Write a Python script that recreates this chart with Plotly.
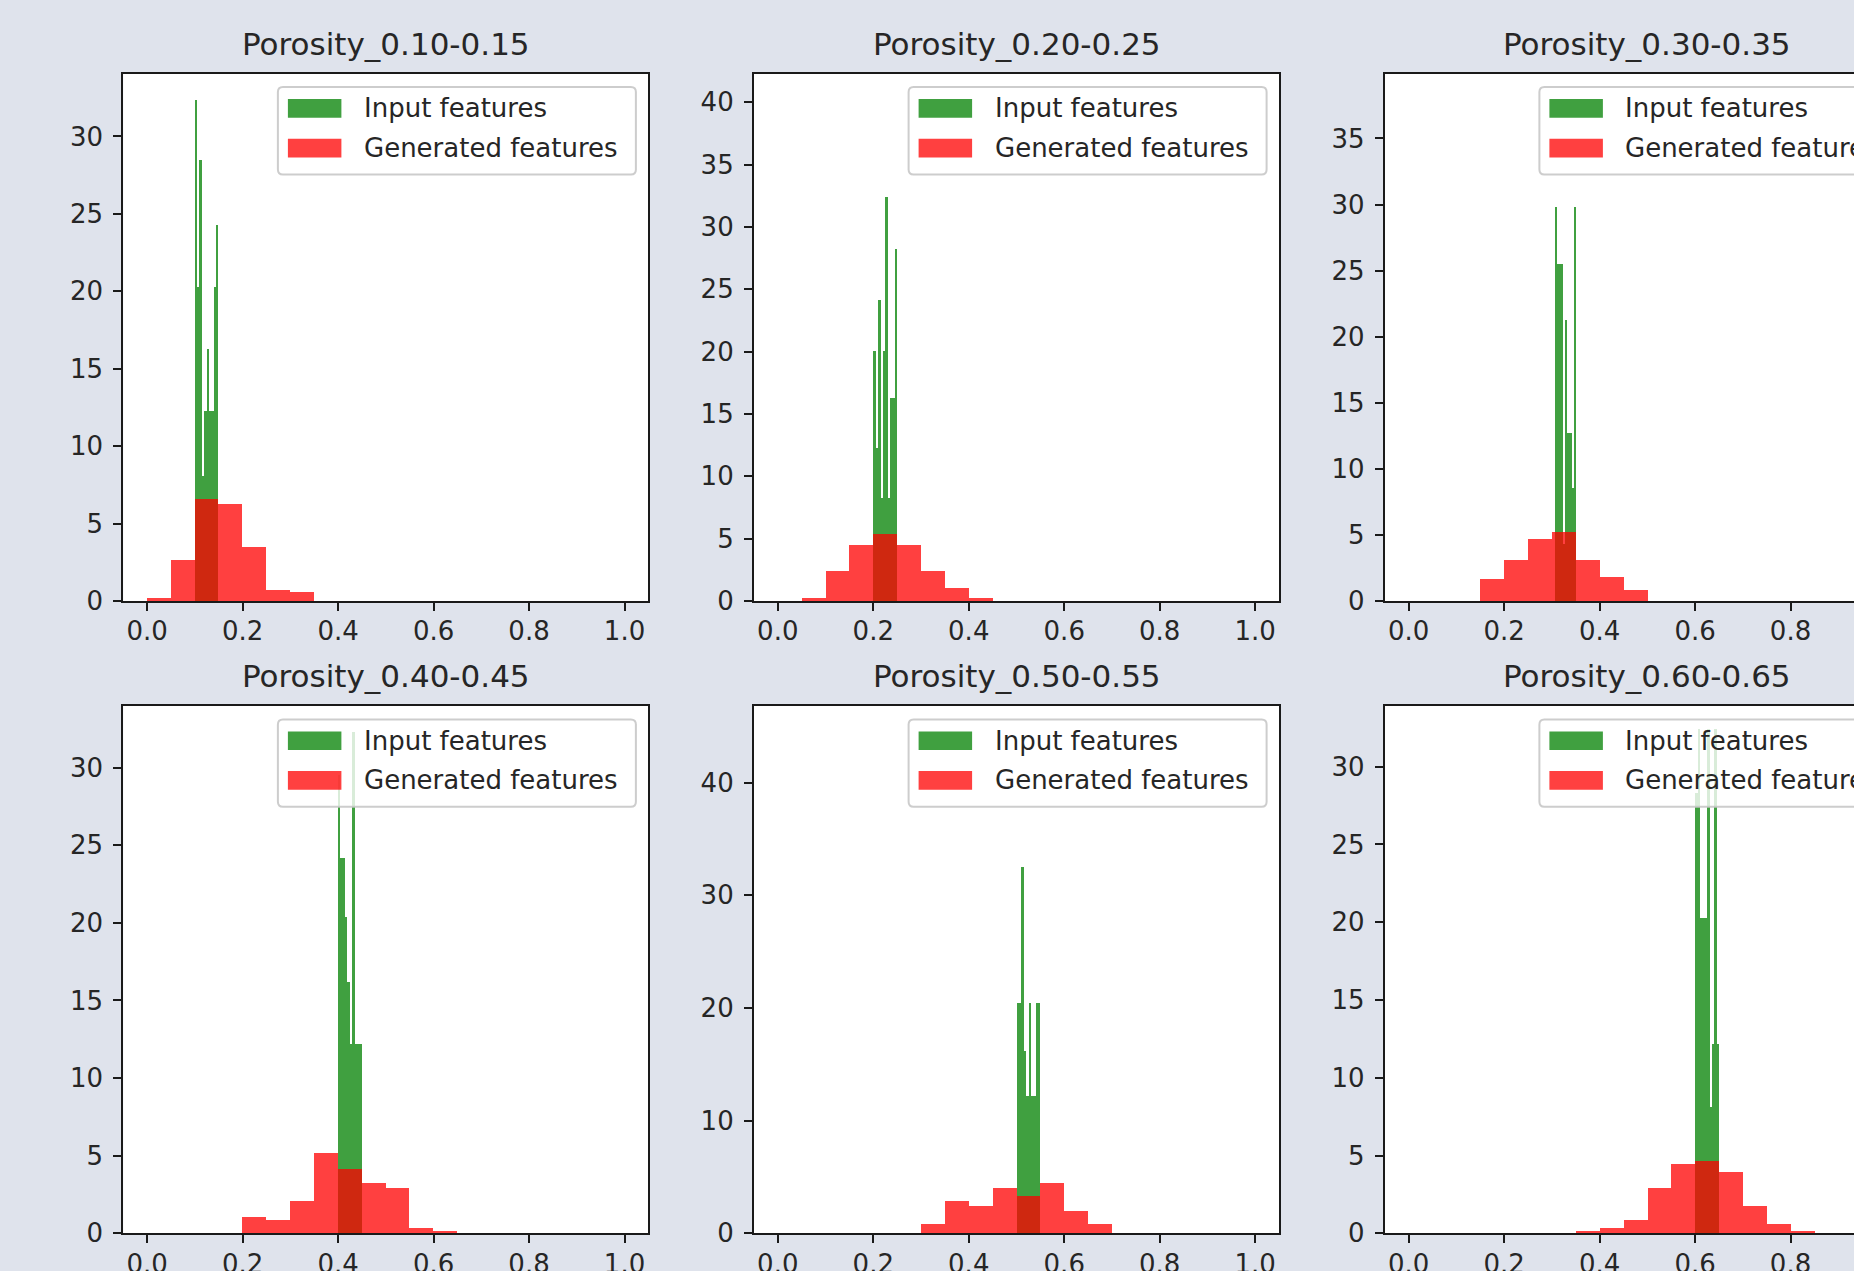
import numpy as np
import plotly.graph_objects as go

W, H = 1854, 1271

TITLES = ["Porosity_0.10-0.15", "Porosity_0.20-0.25", "Porosity_0.30-0.35",
          "Porosity_0.40-0.45", "Porosity_0.50-0.55", "Porosity_0.60-0.65"]

# Generated features: density histogram, 20 bins over [0, 1]
GEN_EDGES = [0.0, 1.0]
GEN_1 = [0.2, 2.65, 6.6, 6.26, 3.5, 0.74, 0.57, 0, 0, 0, 0, 0, 0, 0, 0, 0, 0, 0, 0, 0]
GEN_2 = [0, 0.25, 2.4, 4.5, 5.37, 4.5, 2.4, 1.1, 0.25, 0, 0, 0, 0, 0, 0, 0, 0, 0, 0, 0]
GEN_3 = [0, 0, 0, 1.65, 3.1, 4.7, 5.28, 3.1, 1.86, 0.84, 0, 0, 0, 0, 0, 0, 0, 0, 0, 0]
GEN_4 = [0, 0, 0, 0, 1.05, 0.88, 2.06, 5.15, 4.15, 3.27, 2.94, 0.35, 0.18, 0, 0, 0, 0, 0, 0, 0]
GEN_5 = [0, 0, 0, 0, 0, 0, 0.8, 2.87, 2.42, 4.05, 3.33, 4.5, 1.94, 0.8, 0, 0, 0, 0, 0, 0]
GEN_6 = [0, 0, 0, 0, 0, 0, 0, 0.18, 0.35, 0.88, 2.93, 4.46, 4.64, 3.96, 1.75, 0.58, 0.18, 0, 0, 0]

# Input features: density histogram, 10 bins over [lo, hi]
INPUT_LO = [0.10, 0.20, 0.305, 0.40, 0.50, 0.60]
INPUT_HI = [0.15, 0.25, 0.35, 0.45, 0.55, 0.65]
INPUT_1 = [32.4, 20.3, 28.5, 8.1, 12.3, 16.3, 12.3, 12.3, 20.3, 24.3]
INPUT_2 = [20.1, 12.3, 24.2, 8.3, 20.1, 32.4, 8.3, 16.3, 16.3, 28.3]
INPUT_3 = [29.8, 25.5, 25.5, 25.5, 4.3, 21.3, 12.7, 12.7, 8.6, 29.8]
INPUT_4 = [29.5, 24.2, 24.2, 20.35, 16.2, 12.2, 32.3, 12.2, 12.2, 12.2]
INPUT_5 = [20.4, 20.4, 32.5, 16.2, 12.2, 20.4, 12.2, 12.2, 20.4, 20.4]
INPUT_6 = [28.3, 32.4, 20.3, 20.3, 20.3, 32.4, 8.1, 12.15, 32.4, 12.15]

Y_MAX = [34.05, 42.3, 39.9, 33.97, 46.8, 33.9]
Y_STEP = [5, 5, 5, 5, 10, 5]
X_TICKS = [0.0, 0.2, 0.4, 0.6, 0.8, 1.0]
X_TICK_TEXT = ["0.0", "0.2", "0.4", "0.6", "0.8", "1.0"]
LEGEND_LABELS = ["Input features", "Generated features"]

GEN = [GEN_1, GEN_2, GEN_3, GEN_4, GEN_5, GEN_6]
INP = [INPUT_1, INPUT_2, INPUT_3, INPUT_4, INPUT_5, INPUT_6]

# ---- layout geometry (pixels) ----
COL_LEFT = [123.2, 753.9, 1384.7]
ROW_TOP = [73.7, 706.0]
AX_W, AX_H = 525.2, 527.3
X_LO, X_SPAN = -0.05, 1.1

FONT = "DejaVu Sans"
TXT = "#262626"
BG = "#dfe3ec"
GREEN = "rgba(0,128,0,0.75)"
RED = "rgba(255,0,0,0.75)"


def px(x):
    return x / W


def py(y):
    return 1 - y / H


fig = go.Figure()
shapes = []
annotations = []

for i in range(6):
    r, c = divmod(i, 3)
    L = COL_LEFT[c]
    T = ROW_TOP[r]
    R = min(L + AX_W, W)
    x_hi = X_LO + X_SPAN * (R - L) / AX_W
    ax = "" if i == 0 else str(i + 1)

    # input (green) histogram
    n_in = len(INP[i])
    in_edges = np.linspace(INPUT_LO[i], INPUT_HI[i], n_in + 1)
    bw_in = (INPUT_HI[i] - INPUT_LO[i]) / n_in
    fig.add_trace(go.Bar(
        x=in_edges[:-1], y=INP[i], width=bw_in, offset=0,
        marker=dict(color=GREEN, line=dict(width=0)),
        name=LEGEND_LABELS[0], showlegend=False,
        xaxis="x" + ax, yaxis="y" + ax))

    # generated (red) histogram
    n_gen = len(GEN[i])
    gen_edges = np.linspace(GEN_EDGES[0], GEN_EDGES[1], n_gen + 1)
    bw_gen = (GEN_EDGES[1] - GEN_EDGES[0]) / n_gen
    fig.add_trace(go.Bar(
        x=gen_edges[:-1], y=GEN[i], width=bw_gen, offset=0,
        marker=dict(color=RED, line=dict(width=0)),
        name=LEGEND_LABELS[1], showlegend=False,
        xaxis="x" + ax, yaxis="y" + ax))

    common = dict(showline=True, linewidth=2, linecolor="#1a1a1a",
                  ticks="outside", ticklen=8, tickwidth=2, tickcolor="#1a1a1a",
                  showgrid=False, zeroline=False, automargin=False,
                  tickfont=dict(family=FONT, size=26, color=TXT))
    fig.update_layout(**{
        "xaxis" + ax: dict(domain=[px(L), px(R)], range=[X_LO, x_hi],
                           anchor="y" + ax, tickvals=X_TICKS, ticktext=X_TICK_TEXT,
                           mirror=True, ticklabelstandoff=-2, **common),
        "yaxis" + ax: dict(domain=[py(T + AX_H), py(T)], range=[0, Y_MAX[i]],
                           anchor="x" + ax, tick0=0, dtick=Y_STEP[i],
                           mirror=(c != 2), ticklabelstandoff=5, **common),
    })

    # subplot title
    annotations.append(dict(
        text=TITLES[i], xref="paper", yref="paper",
        x=px(L + AX_W / 2), y=py(T), xanchor="center", yanchor="bottom",
        yshift=10, showarrow=False,
        font=dict(family=FONT, size=31, color=TXT)))

    # legend box (upper right, rounded)
    bx1 = L + AX_W - 12.5
    bx0 = bx1 - 358.0
    by0 = T + 13.4
    by1 = by0 + 87.3
    rad = 5.0
    path = (f"M {px(bx0 + rad)},{py(by0)} L {px(bx1 - rad)},{py(by0)} "
            f"Q {px(bx1)},{py(by0)} {px(bx1)},{py(by0 + rad)} "
            f"L {px(bx1)},{py(by1 - rad)} Q {px(bx1)},{py(by1)} {px(bx1 - rad)},{py(by1)} "
            f"L {px(bx0 + rad)},{py(by1)} Q {px(bx0)},{py(by1)} {px(bx0)},{py(by1 - rad)} "
            f"L {px(bx0)},{py(by0 + rad)} Q {px(bx0)},{py(by0)} {px(bx0 + rad)},{py(by0)} Z")
    shapes.append(dict(type="path", path=path, xref="paper", yref="paper",
                       fillcolor="rgba(255,255,255,0.8)",
                       line=dict(color="rgba(200,200,200,0.9)", width=2),
                       layer="above"))
    for k, (col, lab) in enumerate(zip([GREEN, RED], LEGEND_LABELS)):
        y0 = by0 + 12.0 + k * 39.7
        y1 = y0 + 18.7
        shapes.append(dict(type="rect", xref="paper", yref="paper",
                           x0=px(bx0 + 10), x1=px(bx0 + 63.5),
                           y0=py(y1), y1=py(y0), fillcolor=col,
                           line=dict(width=0), layer="above"))
        annotations.append(dict(
            text=lab, xref="paper", yref="paper",
            x=px(bx0 + 84), y=py((y0 + y1) / 2), xanchor="left", yanchor="middle",
            showarrow=False, font=dict(family=FONT, size=26, color=TXT)))

fig.update_layout(
    width=W, height=H, autosize=False,
    margin=dict(l=0, r=0, t=0, b=0, pad=0, autoexpand=False),
    paper_bgcolor=BG, plot_bgcolor="white",
    barmode="overlay", bargap=0,
    showlegend=False,
    shapes=shapes, annotations=annotations,
    font=dict(family=FONT, color=TXT),
)

fig.write_html(
    "out.html",
    config={"displayModeBar": False, "responsive": False},
    post_script=("document.documentElement.style.margin='0';"
                 "document.body.style.margin='0';"
                 "document.body.style.overflow='hidden';"
                 "document.documentElement.style.overflow='hidden';"),
)
